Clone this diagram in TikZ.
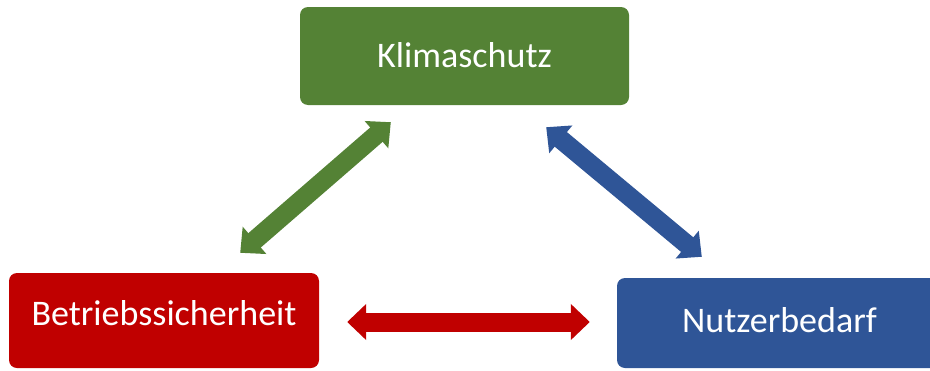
\documentclass[tikz,border=0pt]{standalone}
\usepackage{fontspec}
\setmainfont{Carlito}
\usetikzlibrary{arrows.meta,calc}
\definecolor{kgreen}{HTML}{548235}
\definecolor{kred}{HTML}{C00000}
\definecolor{kblue}{HTML}{2F5597}
\begin{document}
\begin{tikzpicture}[x=1pt,y=-1pt,
  box/.style={rounded corners=8pt, inner sep=0pt, text=white,
    font=\fontsize{36}{40}\selectfont, anchor=center},
  dbl/.style={line width=19pt,
    {Triangle[length=19pt,width=35pt]}-{Triangle[length=19pt,width=35pt]}}]
\useasboundingbox (0,0) rectangle (930,370);
\node[box, fill=kgreen, minimum width=329pt, minimum height=98pt,
  text height=23pt, text depth=0pt] (klima) at (464.5,56) {Klimaschutz};
\node[box, fill=kred, minimum width=310pt, minimum height=95pt,
  text height=23pt, text depth=13pt] (betrieb) at (164,320.5) {Betriebssicherheit};
\node[box, fill=kblue, minimum width=325pt, minimum height=90pt,
  text height=23pt, text depth=4pt] (nutzer) at (779.5,323) {Nutzerbedarf};
\coordinate (g1) at ($(betrieb.north east)+(-79,-20)$);
\coordinate (g2) at ($(klima.south west)+(91,17)$);
\coordinate (b1) at ($(klima.south east)+(-83,22)$);
\coordinate (b2) at ($(nutzer.north west)+(85,-21)$);
\coordinate (r1) at ($(betrieb.east)+(28,1.5)$);
\coordinate (r2) at ($(nutzer.west)+(-27,-1)$);
\draw[dbl, kgreen] (g1) -- (g2);
\draw[dbl, kblue] (b1) -- (b2);
\draw[dbl, kred] (r1) -- (r2);
\end{tikzpicture}
\end{document}
